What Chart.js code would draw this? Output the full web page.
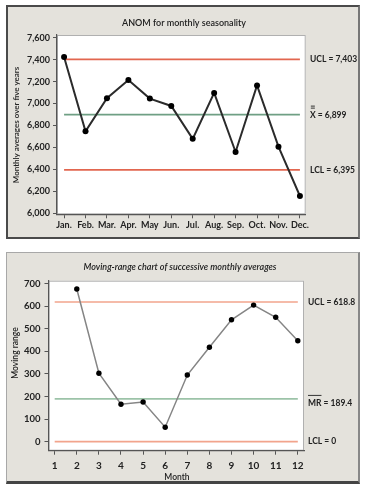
<!DOCTYPE html>
<html><head><meta charset="utf-8">
<script src="https://cdn.jsdelivr.net/npm/chart.js@4"></script>
<style>
html,body{margin:0;padding:0;background:#fff;width:365px;height:488px;overflow:hidden}
.panel{position:absolute;box-sizing:border-box;background:#e4e2dc}
#p1{left:6px;top:5px;width:354px;height:234px;border:2px solid #4a4a4a;border-right-color:#777}
#p2{left:6px;top:252px;width:354px;height:232px;border:1px solid #a8a8a8;border-right:2px solid #888;border-bottom:3px solid #444}
.wrap{position:absolute;left:0;width:365px;height:244px}
canvas{display:block}
</style></head><body>
<div class="panel" id="p1"></div><div class="panel" id="p2"></div>
<div class="wrap" style="top:0"><canvas id="c1" width="365" height="244"></canvas></div>
<div class="wrap" style="top:244px"><canvas id="c2" width="365" height="244"></canvas></div>
<script>
// ---- data ----
const months = ['Jan.','Feb.','Mar.','Apr.','May','Jun.','Jul.','Aug.','Sep.','Oct.','Nov.','Dec.'];
const monthlyAverages = [7424, 6747, 7048, 7215, 7045, 6978, 6678, 7097, 6558, 7165, 6607, 6157];
const anomUCL = 7403, anomCenter = 6899, anomLCL = 6395;
const anomLabels = ['UCL = 7,403', 'X = 6,899', 'LCL = 6,395'];
const anomYTicks = [6000, 6200, 6400, 6600, 6800, 7000, 7200, 7400, 7600];

const monthNumbers = [1,2,3,4,5,6,7,8,9,10,11,12];
const movingRanges = [null, 676, 303, 166, 176, 64, 295, 418, 540, 605, 551, 447];
const mrUCL = 618.8, mrCenter = 189.4, mrLCL = 0;
const mrLabels = ['UCL = 618.8', 'MR = 189.4', 'LCL = 0'];
const mrYTicks = [0, 100, 200, 300, 400, 500, 600, 700];

const FONT = 'Lato, "Open Sans", sans-serif';
const RED1 = '#e2664f', GREEN1 = '#6f9f84', RED2 = '#f2a48c', GREEN2 = '#9cc3a8';

// ---- plugins ----
const plotBg = {
  id: 'plotBg',
  beforeDraw(chart) {
    const {ctx, chartArea: a} = chart;
    ctx.save();
    ctx.fillStyle = '#fff';
    ctx.fillRect(a.left, a.top, a.right - a.left, a.bottom - a.top);
    ctx.strokeStyle = '#b0b0b0'; ctx.lineWidth = 1;
    ctx.strokeRect(a.left + 0.5, a.top + 0.5, a.right - a.left - 1, a.bottom - a.top - 1);
    ctx.restore();
  }
};
const annotate = {
  id: 'annotate',
  afterDraw(chart, args, o) {
    const ctx = chart.ctx, ys = chart.scales.y;
    ctx.save();
    ctx.fillStyle = '#222';
    ctx.font = o.titleFont; ctx.textAlign = 'center'; ctx.textBaseline = 'middle';
    ctx.fillText(o.title, o.titleX, o.titleY);
    ctx.save();
    ctx.font = o.yTitleFont;
    ctx.translate(o.yTitleX, o.yTitleY); ctx.rotate(-Math.PI / 2);
    ctx.fillText(o.yTitle, 0, 0);
    ctx.restore();
    if (o.xTitle) { ctx.font = o.yTitleFont; ctx.fillText(o.xTitle, o.xTitleX, o.xTitleY); }
    ctx.font = o.labelFont; ctx.textAlign = 'left';
    o.items.forEach(it => {
      const py = ys.getPixelForValue(it.value) + (it.dy || 0);
      ctx.fillText(it.text, o.labelX, py);
      ctx.strokeStyle = '#333'; ctx.lineWidth = 1;
      if (it.bar === 'double') {
        const w = ctx.measureText('X').width;
        const cx = o.labelX + w / 2;
        ctx.beginPath();
        ctx.moveTo(cx - 2, py - 7.5); ctx.lineTo(cx + 2, py - 7.5);
        ctx.moveTo(cx - 2, py - 9.5); ctx.lineTo(cx + 2, py - 9.5);
        ctx.stroke();
      } else if (it.bar === 'over') {
        const w = ctx.measureText('MR').width;
        ctx.beginPath();
        ctx.moveTo(o.labelX, py - 7.5); ctx.lineTo(o.labelX + w, py - 7.5);
        ctx.stroke();
      }
    });
    ctx.restore();
  }
};

function hline(v, x0, x1, color) {
  return { data: [{x: x0, y: v}, {x: x1, y: v}], borderColor: color, borderWidth: 1.6,
           pointRadius: 0, fill: false, order: 2 };
}
function axisCommon(extra) {
  return Object.assign({
    grid: { display: true, drawOnChartArea: false, drawTicks: true, tickLength: 4, color: '#555' },
    border: { display: true, color: '#555', width: 1.2 }
  }, extra);
}

// ---- chart 1: ANOM ----
new Chart(document.getElementById('c1'), {
  type: 'line',
  data: {
    datasets: [
      { data: monthlyAverages.map((v, i) => ({x: i, y: v})), borderColor: '#2b2b2b', borderWidth: 2,
        pointRadius: 3, pointBorderWidth: 0, pointBackgroundColor: '#000', order: 1 },
      hline(anomUCL, 0, 11, RED1),
      hline(anomCenter, 0, 11, GREEN1),
      hline(anomLCL, 0, 11, RED1)
    ]
  },
  options: {
    responsive: false, animation: false,
    layout: { padding: { left: 0, top: 35, right: 59.3, bottom: 9.7 } },
    plugins: {
      legend: { display: false }, tooltip: { enabled: false },
      annotate: {
        title: 'ANOM for monthly seasonality', titleFont: '600 9px ' + FONT, titleX: 184, titleY: 23,
        yTitle: 'Monthly averages over five years', yTitleFont: '600 8px ' + FONT, yTitleX: 16, yTitleY: 125,
        labelFont: '700 8.5px ' + FONT, labelX: 310,
        items: [
          { value: anomUCL, text: anomLabels[0] },
          { value: anomCenter, text: anomLabels[1], bar: 'double', dy: 1 },
          { value: anomLCL, text: anomLabels[2] }
        ]
      }
    },
    scales: {
      x: axisCommon({
        type: 'linear', min: -0.33, max: 11.27,
        afterBuildTicks: s => { s.ticks = months.map((m, i) => ({value: i})); },
        ticks: { autoSkip: false, maxRotation: 0, padding: 1,
                 color: '#222', font: { family: FONT, size: 9, weight: '700' },
                 callback: v => months[v] },
        afterFit: s => { s.height = 20; s.paddingLeft = 0; s.paddingRight = 0; }
      }),
      y: axisCommon({
        type: 'linear', min: 5990, max: 7625,
        afterBuildTicks: s => { s.ticks = anomYTicks.map(v => ({value: v})); },
        ticks: { padding: 3, color: '#222',
                 font: { family: FONT, size: 9, weight: '700' },
                 callback: v => v.toLocaleString('en-US') },
        afterFit: s => { s.width = 57; s.paddingTop = 0; s.paddingBottom = 0; }
      })
    }
  },
  plugins: [plotBg, annotate]
});

// ---- chart 2: Moving range ----
new Chart(document.getElementById('c2'), {
  type: 'line',
  data: {
    datasets: [
      { data: monthNumbers.map((m, i) => ({x: m, y: movingRanges[i]})), borderColor: '#858585', borderWidth: 1.5,
        pointRadius: 2.7, pointBorderWidth: 0, pointBackgroundColor: '#000', spanGaps: false, order: 1 },
      hline(mrUCL, 1, 12, RED2),
      hline(mrCenter, 1, 12, GREEN2),
      hline(mrLCL, 1, 12, RED2)
    ]
  },
  options: {
    responsive: false, animation: false,
    layout: { padding: { left: 0, top: 36.7, right: 61, bottom: 11.3 } },
    plugins: {
      legend: { display: false }, tooltip: { enabled: false },
      annotate: {
        title: 'Moving-range chart of successive monthly averages', titleFont: 'italic 600 9px ' + FONT, titleX: 180, titleY: 23,
        yTitle: 'Moving range', yTitleFont: '600 8.5px ' + FONT, yTitleX: 15, yTitleY: 109,
        xTitle: 'Month', xTitleX: 177, xTitleY: 233,
        labelFont: '700 8.5px ' + FONT, labelX: 308,
        items: [
          { value: mrUCL, text: mrLabels[0] },
          { value: mrCenter, text: mrLabels[1], bar: 'over', dy: 4 },
          { value: mrLCL, text: mrLabels[2] }
        ]
      }
    },
    scales: {
      x: axisCommon({
        type: 'linear', min: 0.72, max: 12.28,
        afterBuildTicks: s => { s.ticks = monthNumbers.map(v => ({value: v})); },
        ticks: { autoSkip: false, maxRotation: 0, padding: 5,
                 color: '#222', font: { family: FONT, size: 10, weight: '700' } },
        afterFit: s => { s.height = 26; s.paddingLeft = 0; s.paddingRight = 0; }
      }),
      y: axisCommon({
        type: 'linear', min: -40, max: 713,
        afterBuildTicks: s => { s.ticks = mrYTicks.map(v => ({value: v})); },
        ticks: { padding: 4, color: '#222',
                 font: { family: FONT, size: 9.5, weight: '700' } },
        afterFit: s => { s.width = 48.5; s.paddingTop = 0; s.paddingBottom = 0; }
      })
    }
  },
  plugins: [plotBg, annotate]
});
</script>
</body></html>
